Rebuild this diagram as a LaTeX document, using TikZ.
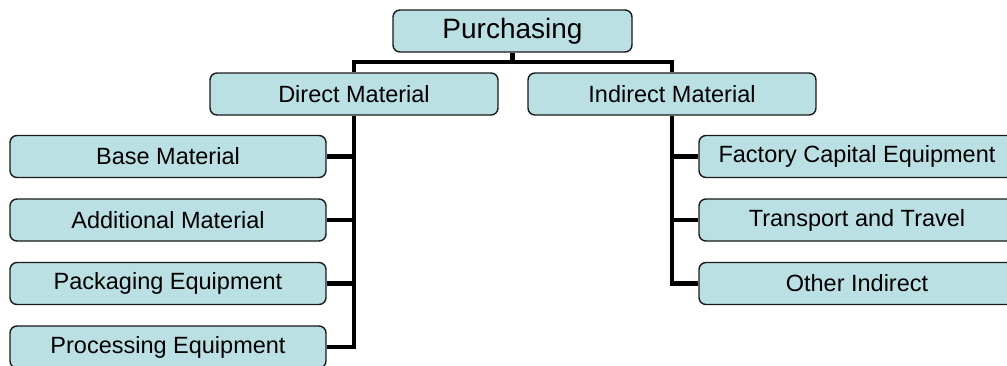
\documentclass[tikz,border=0pt]{standalone}
\usepackage{fontspec}
\setmainfont{Liberation Sans}
\usetikzlibrary{backgrounds}
\definecolor{boxfill}{HTML}{BBE0E3}
\definecolor{boxline}{HTML}{1A1A1A}
\begin{document}
\begin{tikzpicture}[x=1pt,y=-1pt,
  orgbox/.style={draw=boxline, fill=boxfill, line width=1.4pt, rounded corners=7pt,
    minimum height=42pt, inner sep=0pt, font=\fontsize{23.5}{27}\selectfont, text=black},
  kidbox/.style={orgbox, minimum width=316pt},
  link/.style={line width=4.5pt, draw=black, line cap=butt}]
\useasboundingbox (0,0) rectangle (1007,365);
\begin{scope}
\clip (0,0) rectangle (1007,365);
\node[orgbox, minimum width=239pt, font=\fontsize{28}{32}\selectfont] (purch) at (512.5,31) {Purchasing};
\node[orgbox, minimum width=288pt] (direct) at (354,94) {Direct Material};
\node[orgbox, minimum width=288pt] (indirect) at (672,94) {Indirect Material};
\node[kidbox] (base) at (168,156.5) {Base Material};
\node[kidbox] (addl) at (168,220) {Additional Material};
\node[kidbox] (pack) at (168,283.5) {Packaging Equipment};
\node[kidbox] (proc) at (168,347) {Processing Equipment};
\node[kidbox] (fact) at (857,156.5) {Factory Capital Equipment};
\node[kidbox] (trans) at (857,220) {Transport and Travel};
\node[kidbox] (other) at (857,283.5) {Other Indirect};
\coordinate (bar) at (512.5,62);
\begin{scope}[on background layer]
\draw[link] (purch.south) -- (bar);
\draw[link] ([xshift=-2.25pt]direct.north |- bar) -- ([xshift=2.25pt]indirect.north |- bar);
\draw[link] (direct.north |- bar) -- (direct.north);
\draw[link] (indirect.north |- bar) -- (indirect.north);
\draw[link] (direct.south) -- ([yshift=2.25pt]direct.south |- proc.east);
\draw[link] (indirect.south) -- ([yshift=2.25pt]indirect.south |- other.west);
\foreach \k in {base,addl,pack} \draw[link] (\k.east) -- (direct.south |- \k.east);
\draw[link] (proc.east) -- ([xshift=2.25pt]direct.south |- proc.east);
\foreach \k in {fact,trans} \draw[link] (\k.west) -- (indirect.south |- \k.west);
\draw[link] (other.west) -- ([xshift=-2.25pt]indirect.south |- other.west);
\end{scope}
\end{scope}
\end{tikzpicture}
\end{document}
